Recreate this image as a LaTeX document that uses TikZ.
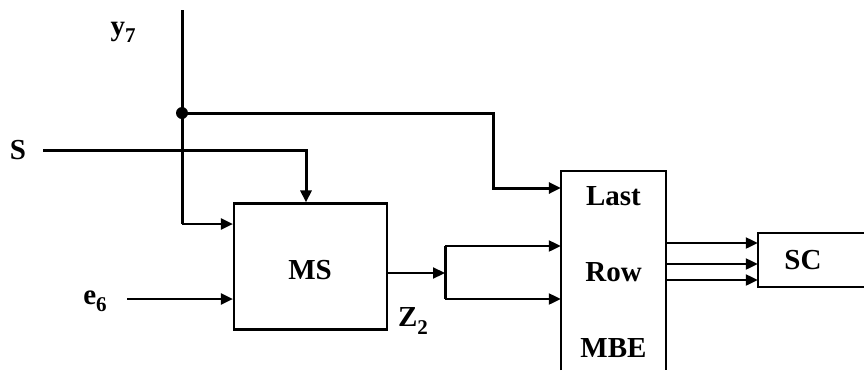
\documentclass[tikz,border=0pt]{standalone}
\usepackage{fontspec}
\setmainfont{Liberation Serif}
\usetikzlibrary{arrows.meta}
\newcommand{\mysub}[1]{\raisebox{-0.25em}{\fontsize{21}{22}\selectfont #1}}
\begin{document}
\begin{tikzpicture}[x=1pt,y=-1pt,
  wire/.style={line width=3pt},
  sig/.style={line width=2.2pt,-{Triangle[length=12pt,width=11pt]}},
  lbl/.style={font=\fontsize{29}{30}\selectfont\bfseries, inner sep=0pt},
  blk/.style={draw, line width=2.2pt, inner sep=0pt}]
\useasboundingbox (0,0) rectangle (864,370);
% blocks
\node[blk, minimum width=153pt, minimum height=126pt] (ms) at (310.5,266.5) {};
\node[lbl] (mst) at (310,270) {MS};
\node[minimum width=105pt, minimum height=199pt, inner sep=0pt] (lrm) at (613.5,270.5) {};
\draw[line width=2.2pt] (lrm.south west) -- (lrm.north west) -- (lrm.north east) -- (lrm.south east);
\node[lbl] (last) at (613.5,196) {Last};
\node[lbl] (row) at (613.5,272) {Row};
\node[lbl] (mbe) at (613.5,348) {MBE};
\node[minimum width=106pt, minimum height=54pt, inner sep=0pt] (sc) at (811,260) {};
\draw[line width=2.2pt] (sc.north east) -- (sc.north west) -- (sc.south west) -- (sc.south east);
\node[lbl] (sct) at (803,260) {SC};
% labels
\node[lbl] (y7) at (123,32) {y\mysub{7}};
\node[lbl] (s) at (18,150) {S};
\node[lbl] (e6) at (95,301) {e\mysub{6}};
\node[lbl] (z2) at (413,321) {Z\mysub{2}};
% coordinates
\coordinate (y7top) at (182,10);
\coordinate (dot) at (182,113);
\coordinate (y7end) at (182,224);
\coordinate (sstart) at (43,150);
\coordinate (sturn) at (306,150);
\coordinate (ttop) at (493,113);
\coordinate (tdown) at (493,188);
\coordinate (e6s) at (127,299);
\coordinate (fork) at (445,273);
\coordinate (fa) at (445,246);
\coordinate (fb) at (445,299);
\coordinate (o1) at (0,243);
\coordinate (o2) at (0,264);
\coordinate (o3) at (0,280);
% wires
\draw[wire] (y7top) -- (y7end);
\draw[sig] (y7end) -- (y7end -| ms.west);
\fill (dot) circle (6pt);
\draw[sig, line width=3pt] (dot) -- (ttop) -- (tdown) -- (tdown -| lrm.west);
\draw[sig, line width=3pt] (sstart) -- (sturn) -- (sturn |- ms.north);
\draw[sig] (e6s) -- (e6s -| ms.west);
\draw[sig] (ms.east |- fork) -- (fork);
\draw[wire] (fa) -- (fb);
\draw[sig] (fa) -- (fa -| lrm.west);
\draw[sig] (fb) -- (fb -| lrm.west);
\draw[sig] (lrm.east |- o1) -- (sc.west |- o1);
\draw[sig] (lrm.east |- o2) -- (sc.west |- o2);
\draw[sig] (lrm.east |- o3) -- (sc.west |- o3);
\end{tikzpicture}
\end{document}
